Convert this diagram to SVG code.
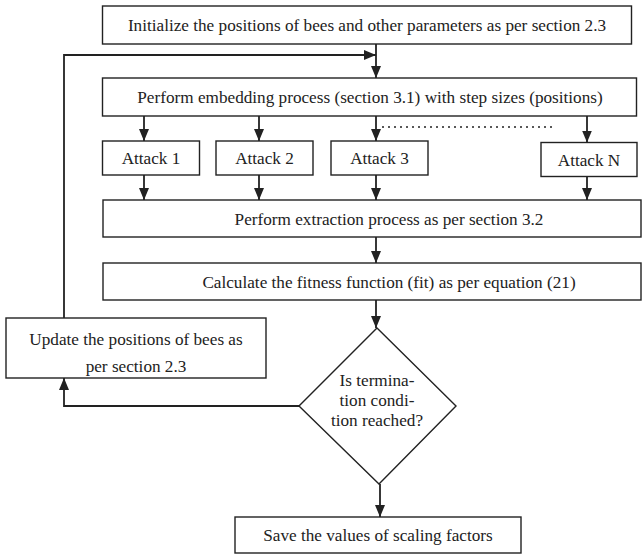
<svg xmlns="http://www.w3.org/2000/svg" width="643" height="555" viewBox="0 0 643 555">
<style>
.box{fill:#fff;stroke:#222;stroke-width:1.4}
.t{font-family:"Liberation Serif","Times New Roman",serif;font-size:17.2px;fill:#222;text-anchor:middle}
.c{fill:none;stroke:#222;stroke-width:1.8}
.d{fill:none;stroke:#222;stroke-width:1.5;stroke-dasharray:2 4}
</style>
<defs>
<marker id="ah" markerWidth="12" markerHeight="10" refX="12" refY="5" orient="auto" markerUnits="userSpaceOnUse">
<path d="M0,0 L12,5 L0,10 Z" fill="#222"/>
</marker>
</defs>
<rect width="643" height="555" fill="#fff"/>
<g id="connectors">
<line class="c" x1="376" y1="44" x2="376" y2="78" marker-end="url(#ah)"/>
<polyline class="c" points="64,318 64,55 376,55" marker-end="url(#ah)"/>
<line class="c" x1="144" y1="116" x2="144" y2="141" marker-end="url(#ah)"/>
<line class="c" x1="259" y1="116" x2="259" y2="141" marker-end="url(#ah)"/>
<line class="c" x1="376" y1="116" x2="376" y2="141" marker-end="url(#ah)"/>
<line class="c" x1="587" y1="116" x2="587" y2="142.5" marker-end="url(#ah)"/>
<line class="d" x1="382" y1="127" x2="553" y2="127"/>
<line class="c" x1="144" y1="175" x2="144" y2="200" marker-end="url(#ah)"/>
<line class="c" x1="259" y1="175" x2="259" y2="200" marker-end="url(#ah)"/>
<line class="c" x1="376" y1="175" x2="376" y2="200" marker-end="url(#ah)"/>
<line class="c" x1="587" y1="176.5" x2="587" y2="200" marker-end="url(#ah)"/>
<line class="c" x1="376" y1="237" x2="376" y2="263" marker-end="url(#ah)"/>
<line class="c" x1="376" y1="300" x2="376" y2="328" marker-end="url(#ah)"/>
<polyline class="c" points="299,406 64,406 64,378" marker-end="url(#ah)"/>
<line class="c" x1="380" y1="484" x2="380" y2="517" marker-end="url(#ah)"/>
</g>
<g id="init">
<rect class="box" x="102.5" y="6" width="529" height="38"/>
<text class="t" x="367" y="31">Initialize the positions of bees and other parameters as per section 2.3</text>
</g>
<g id="embed">
<rect class="box" x="102.5" y="78" width="534" height="38"/>
<text class="t" x="370" y="103">Perform embedding process (section 3.1) with step sizes (positions)</text>
</g>
<g id="attack1">
<rect class="box" x="102.5" y="141" width="97" height="34"/>
<text class="t" x="151" y="164">Attack 1</text>
</g>
<g id="attack2">
<rect class="box" x="216" y="141" width="97" height="34"/>
<text class="t" x="264.5" y="164">Attack 2</text>
</g>
<g id="attack3">
<rect class="box" x="331" y="141" width="97" height="34"/>
<text class="t" x="379.5" y="164">Attack 3</text>
</g>
<g id="attackN">
<rect class="box" x="541" y="142.5" width="96" height="34"/>
<text class="t" x="589" y="166">Attack N</text>
</g>
<g id="extract">
<rect class="box" x="103" y="200" width="538" height="37"/>
<text class="t" x="389" y="225">Perform extraction process as per section 3.2</text>
</g>
<g id="fitness">
<rect class="box" x="103" y="263" width="538" height="37"/>
<text class="t" x="389" y="288">Calculate the fitness function (fit) as per equation (21)</text>
</g>
<g id="update">
<rect class="box" x="6" y="318" width="260" height="60"/>
<text class="t" x="136" y="345">Update the positions of bees as</text>
<text class="t" x="136" y="372">per section 2.3</text>
</g>
<g id="decision">
<polygon class="box" points="377,328 456,406 379,484 299,406"/>
<text class="t" x="377" y="386">Is termina-</text>
<text class="t" x="377" y="406">tion condi-</text>
<text class="t" x="377" y="426">tion reached?</text>
</g>
<g id="save">
<rect class="box" x="235" y="517" width="286" height="36"/>
<text class="t" x="378" y="541">Save the values of scaling factors</text>
</g>
</svg>
